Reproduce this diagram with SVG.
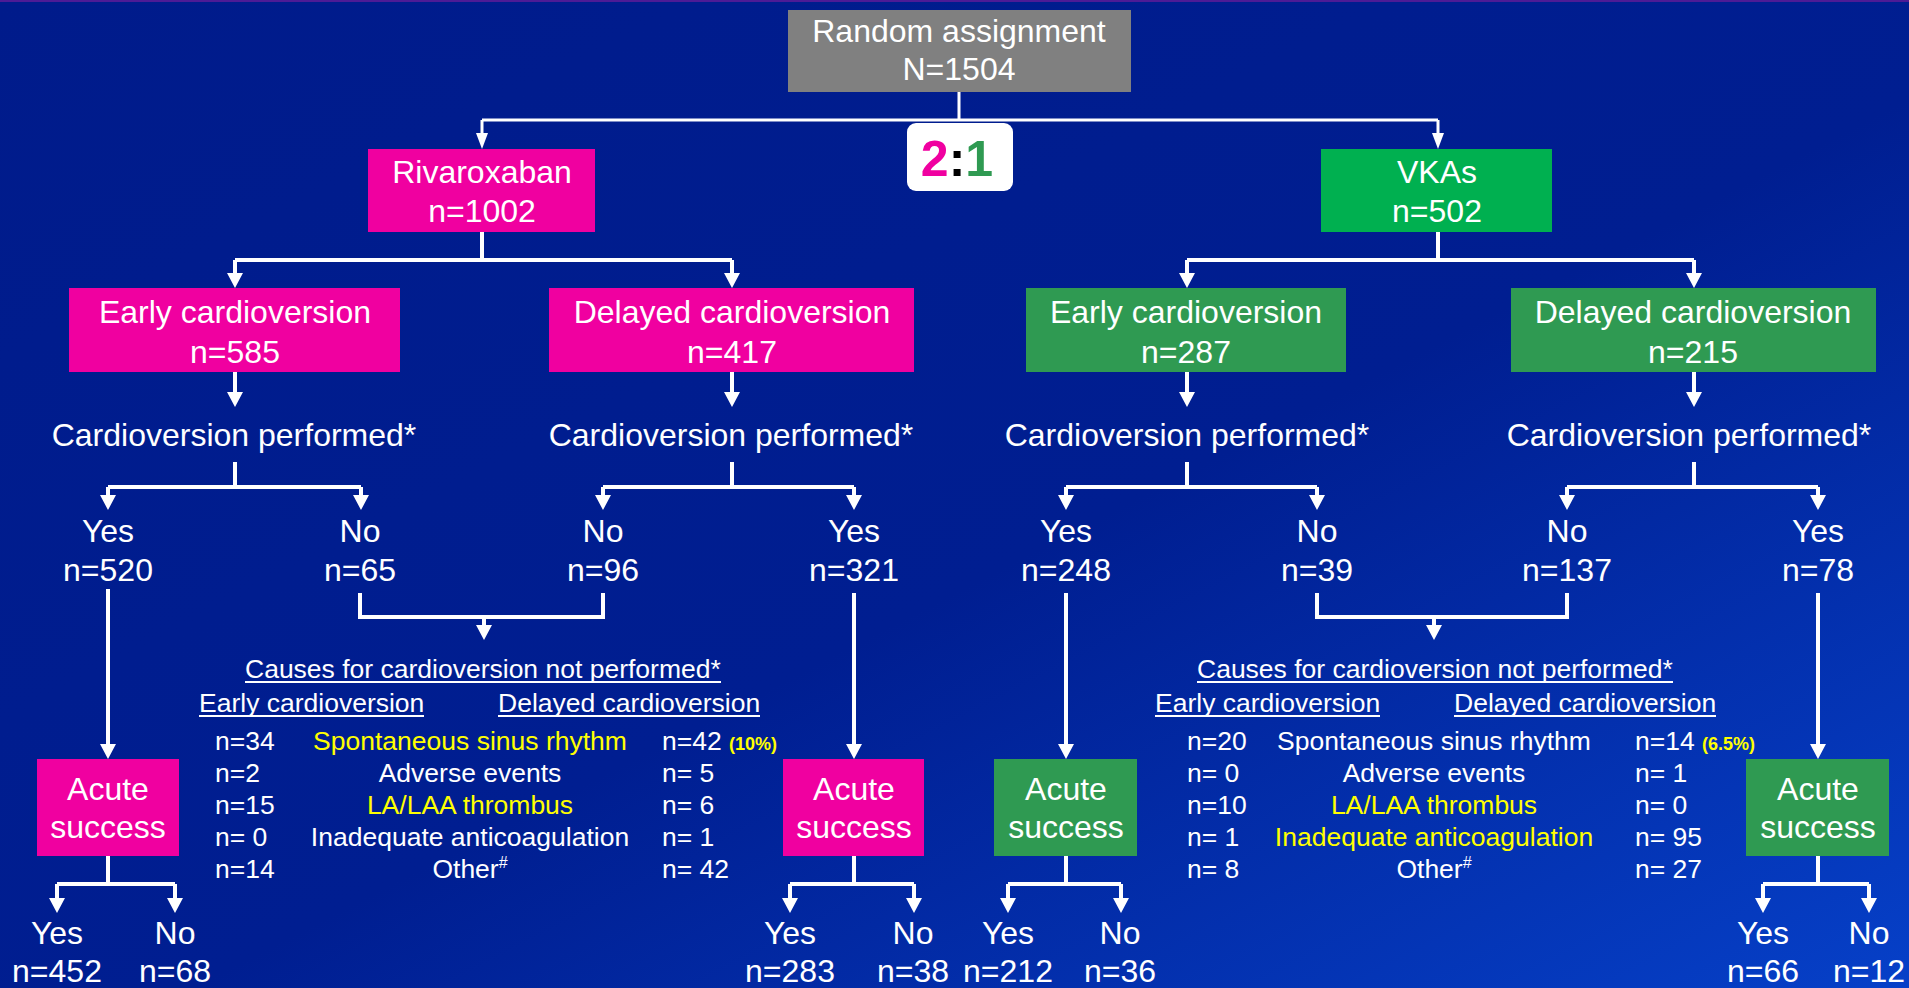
<svg xmlns="http://www.w3.org/2000/svg" width="1909" height="988" viewBox="0 0 1909 988">
<defs>
<linearGradient id="bg" x1="0" y1="0" x2="1" y2="1">
<stop offset="0" stop-color="#001b8b"/>
<stop offset="0.55" stop-color="#001e91"/>
<stop offset="1" stop-color="#0640c8"/>
</linearGradient>
<marker id="ah" markerUnits="userSpaceOnUse" markerWidth="16" markerHeight="18" viewBox="0 -9 16 18" refX="0" refY="0" orient="auto"><path d="M0,-8 L15,0 L0,8 z" fill="#ffffff"/></marker>
<marker id="ah2" markerUnits="userSpaceOnUse" markerWidth="17" markerHeight="14" viewBox="0 -7 17 14" refX="0" refY="0" orient="auto"><path d="M0,-6 L16,0 L0,6 z" fill="#ffffff"/></marker>
<style>
text{font-family:"Liberation Sans",Arial,sans-serif;fill:#ffffff}
.b{font-size:32px;text-anchor:middle}
.s{font-size:26.5px}
.m{text-anchor:middle}
.y{fill:#ffff00}
.pc{font-size:18px;font-weight:bold;fill:#ffff00}
.sup{font-size:16px}
.ln{fill:none;stroke:#ffffff;stroke-width:4}
.ln3{fill:none;stroke:#ffffff;stroke-width:3}
.ul{stroke:#ffffff;stroke-width:1.8}
.mag{fill:#f000a0}
.grn{fill:#00b050}
.dg{fill:#2f9a52}
</style>
</defs>
<rect x="0" y="0" width="1909" height="988" fill="url(#bg)"/>
<rect x="0" y="0" width="1909" height="2" fill="#4d1b96"/>

<g id="connectors">
<path class="ln3" d="M959,92 V120 M482,120 H1438"/>
<path class="ln3" d="M482,120 V133" marker-end="url(#ah2)"/>
<path class="ln3" d="M1438,120 V133" marker-end="url(#ah2)"/>

<path class="ln" d="M482,232 V260 M235,260 H732 M1438,232 V260 M1187,260 H1694"/>
<path class="ln" d="M235,260 V273" marker-end="url(#ah)"/>
<path class="ln" d="M732,260 V273" marker-end="url(#ah)"/>
<path class="ln" d="M1187,260 V273" marker-end="url(#ah)"/>
<path class="ln" d="M1694,260 V273" marker-end="url(#ah)"/>

<path class="ln" d="M235,372 V392" marker-end="url(#ah)"/>
<path class="ln" d="M732,372 V392" marker-end="url(#ah)"/>
<path class="ln" d="M1187,372 V392" marker-end="url(#ah)"/>
<path class="ln" d="M1694,372 V392" marker-end="url(#ah)"/>

<path class="ln" d="M235,462 V487 M108,487 H361 M732,462 V487 M603,487 H854 M1187,462 V487 M1066,487 H1317 M1694,462 V487 M1567,487 H1818"/>
<path class="ln" d="M108,487 V495" marker-end="url(#ah)"/>
<path class="ln" d="M361,487 V495" marker-end="url(#ah)"/>
<path class="ln" d="M603,487 V495" marker-end="url(#ah)"/>
<path class="ln" d="M854,487 V495" marker-end="url(#ah)"/>
<path class="ln" d="M1066,487 V495" marker-end="url(#ah)"/>
<path class="ln" d="M1317,487 V495" marker-end="url(#ah)"/>
<path class="ln" d="M1567,487 V495" marker-end="url(#ah)"/>
<path class="ln" d="M1818,487 V495" marker-end="url(#ah)"/>

<path class="ln" d="M108,589 V744" marker-end="url(#ah)"/>
<path class="ln" d="M854,593 V744" marker-end="url(#ah)"/>
<path class="ln" d="M1066,593 V744" marker-end="url(#ah)"/>
<path class="ln" d="M1818,593 V744" marker-end="url(#ah)"/>

<path class="ln" d="M360,593 V617 H603 V593 M1317,593 V617 H1567 V593"/>
<path class="ln" d="M484,617 V625" marker-end="url(#ah)"/>
<path class="ln" d="M1434,617 V625" marker-end="url(#ah)"/>

<path class="ln" d="M108,856 V884 M57,884 H175 M854,856 V884 M790,884 H914 M1066,856 V884 M1008,884 H1121 M1818,856 V884 M1763,884 H1869"/>
<path class="ln" d="M57,884 V898" marker-end="url(#ah)"/>
<path class="ln" d="M175,884 V898" marker-end="url(#ah)"/>
<path class="ln" d="M790,884 V898" marker-end="url(#ah)"/>
<path class="ln" d="M914,884 V898" marker-end="url(#ah)"/>
<path class="ln" d="M1008,884 V898" marker-end="url(#ah)"/>
<path class="ln" d="M1121,884 V898" marker-end="url(#ah)"/>
<path class="ln" d="M1763,884 V898" marker-end="url(#ah)"/>
<path class="ln" d="M1869,884 V898" marker-end="url(#ah)"/>
</g>

<g id="random">
<rect x="788" y="10" width="343" height="82" fill="#808080"/>
<text class="b" x="959" y="42">Random assignment</text>
<text class="b" x="959" y="80">N=1504</text>
</g>

<g id="ratio">
<rect x="907" y="123" width="106" height="68" rx="9" fill="#ffffff"/>
<text x="957" y="176" text-anchor="middle" style="font-size:50px;font-weight:bold"><tspan fill="#f000a0">2</tspan><tspan fill="#000000">:</tspan><tspan fill="#2f9a52">1</tspan></text>
</g>

<g id="rivaroxaban">
<rect class="mag" x="368" y="149" width="227" height="83"/>
<text class="b" x="482" y="183">Rivaroxaban</text>
<text class="b" x="482" y="222">n=1002</text>
</g>

<g id="vkas">
<rect class="grn" x="1321" y="149" width="231" height="83"/>
<text class="b" x="1437" y="183">VKAs</text>
<text class="b" x="1437" y="222">n=502</text>
</g>

<g id="riva-early">
<rect class="mag" x="69" y="288" width="331" height="84"/>
<text class="b" x="235" y="323">Early cardioversion</text>
<text class="b" x="235" y="363">n=585</text>
</g>
<g id="riva-delayed">
<rect class="mag" x="549" y="288" width="365" height="84"/>
<text class="b" x="732" y="323">Delayed cardioversion</text>
<text class="b" x="732" y="363">n=417</text>
</g>
<g id="vka-early">
<rect class="dg" x="1026" y="288" width="320" height="84"/>
<text class="b" x="1186" y="323">Early cardioversion</text>
<text class="b" x="1186" y="363">n=287</text>
</g>
<g id="vka-delayed">
<rect class="dg" x="1511" y="288" width="365" height="84"/>
<text class="b" x="1693" y="323">Delayed cardioversion</text>
<text class="b" x="1693" y="363">n=215</text>
</g>

<g id="cv-performed-1"><text class="b" x="234" y="446">Cardioversion performed*</text></g>
<g id="cv-performed-2"><text class="b" x="731" y="446">Cardioversion performed*</text></g>
<g id="cv-performed-3"><text class="b" x="1187" y="446">Cardioversion performed*</text></g>
<g id="cv-performed-4"><text class="b" x="1689" y="446">Cardioversion performed*</text></g>

<g id="riva-early-yes"><text class="b" x="108" y="542">Yes</text><text class="b" x="108" y="581">n=520</text></g>
<g id="riva-early-no"><text class="b" x="360" y="542">No</text><text class="b" x="360" y="581">n=65</text></g>
<g id="riva-delayed-no"><text class="b" x="603" y="542">No</text><text class="b" x="603" y="581">n=96</text></g>
<g id="riva-delayed-yes"><text class="b" x="854" y="542">Yes</text><text class="b" x="854" y="581">n=321</text></g>
<g id="vka-early-yes"><text class="b" x="1066" y="542">Yes</text><text class="b" x="1066" y="581">n=248</text></g>
<g id="vka-early-no"><text class="b" x="1317" y="542">No</text><text class="b" x="1317" y="581">n=39</text></g>
<g id="vka-delayed-no"><text class="b" x="1567" y="542">No</text><text class="b" x="1567" y="581">n=137</text></g>
<g id="vka-delayed-yes"><text class="b" x="1818" y="542">Yes</text><text class="b" x="1818" y="581">n=78</text></g>

<g id="causes-riva">
<text class="s" x="245" y="678">Causes for cardioversion not performed*</text>
<line class="ul" x1="245" y1="682" x2="721" y2="682"/>
<text class="s" x="199" y="712">Early cardioversion</text>
<line class="ul" x1="199" y1="716" x2="424" y2="716"/>
<text class="s" x="498" y="712">Delayed cardioversion</text>
<line class="ul" x1="498" y1="716" x2="760" y2="716"/>
<text class="s" x="215" y="750">n=34</text>
<text class="s m y" x="470" y="750">Spontaneous sinus rhythm</text>
<text class="s" x="662" y="750">n=42 <tspan class="pc">(10%)</tspan></text>
<text class="s" x="215" y="782">n=2</text>
<text class="s m" x="470" y="782">Adverse events</text>
<text class="s" x="662" y="782">n= 5</text>
<text class="s" x="215" y="814">n=15</text>
<text class="s m y" x="470" y="814">LA/LAA thrombus</text>
<text class="s" x="662" y="814">n= 6</text>
<text class="s" x="215" y="846">n= 0</text>
<text class="s m" x="470" y="846">Inadequate anticoagulation</text>
<text class="s" x="662" y="846">n= 1</text>
<text class="s" x="215" y="878">n=14</text>
<text class="s m" x="470" y="878">Other<tspan class="sup" dy="-10">#</tspan></text>
<text class="s" x="662" y="878">n= 42</text>
</g>

<g id="causes-vka">
<text class="s" x="1197" y="678">Causes for cardioversion not performed*</text>
<line class="ul" x1="1197" y1="682" x2="1673" y2="682"/>
<text class="s" x="1155" y="712">Early cardioversion</text>
<line class="ul" x1="1155" y1="716" x2="1380" y2="716"/>
<text class="s" x="1454" y="712">Delayed cardioversion</text>
<line class="ul" x1="1454" y1="716" x2="1716" y2="716"/>
<text class="s" x="1187" y="750">n=20</text>
<text class="s m" x="1434" y="750">Spontaneous sinus rhythm</text>
<text class="s" x="1635" y="750">n=14 <tspan class="pc">(6.5%)</tspan></text>
<text class="s" x="1187" y="782">n= 0</text>
<text class="s m" x="1434" y="782">Adverse events</text>
<text class="s" x="1635" y="782">n= 1</text>
<text class="s" x="1187" y="814">n=10</text>
<text class="s m y" x="1434" y="814">LA/LAA thrombus</text>
<text class="s" x="1635" y="814">n= 0</text>
<text class="s" x="1187" y="846">n= 1</text>
<text class="s m y" x="1434" y="846">Inadequate anticoagulation</text>
<text class="s" x="1635" y="846">n= 95</text>
<text class="s" x="1187" y="878">n= 8</text>
<text class="s m" x="1434" y="878">Other<tspan class="sup" dy="-10">#</tspan></text>
<text class="s" x="1635" y="878">n= 27</text>
</g>

<g id="acute-riva-early">
<rect class="mag" x="37" y="759" width="142" height="97"/>
<text class="b" x="108" y="800">Acute</text>
<text class="b" x="108" y="838">success</text>
</g>
<g id="acute-riva-delayed">
<rect class="mag" x="783" y="759" width="141" height="97"/>
<text class="b" x="854" y="800">Acute</text>
<text class="b" x="854" y="838">success</text>
</g>
<g id="acute-vka-early">
<rect class="dg" x="994" y="759" width="143" height="97"/>
<text class="b" x="1066" y="800">Acute</text>
<text class="b" x="1066" y="838">success</text>
</g>
<g id="acute-vka-delayed">
<rect class="dg" x="1746" y="759" width="143" height="97"/>
<text class="b" x="1818" y="800">Acute</text>
<text class="b" x="1818" y="838">success</text>
</g>

<g id="out-riva-early-yes"><text class="b" x="57" y="944">Yes</text><text class="b" x="57" y="982">n=452</text></g>
<g id="out-riva-early-no"><text class="b" x="175" y="944">No</text><text class="b" x="175" y="982">n=68</text></g>
<g id="out-riva-delayed-yes"><text class="b" x="790" y="944">Yes</text><text class="b" x="790" y="982">n=283</text></g>
<g id="out-riva-delayed-no"><text class="b" x="913" y="944">No</text><text class="b" x="913" y="982">n=38</text></g>
<g id="out-vka-early-yes"><text class="b" x="1008" y="944">Yes</text><text class="b" x="1008" y="982">n=212</text></g>
<g id="out-vka-early-no"><text class="b" x="1120" y="944">No</text><text class="b" x="1120" y="982">n=36</text></g>
<g id="out-vka-delayed-yes"><text class="b" x="1763" y="944">Yes</text><text class="b" x="1763" y="982">n=66</text></g>
<g id="out-vka-delayed-no"><text class="b" x="1869" y="944">No</text><text class="b" x="1869" y="982">n=12</text></g>
</svg>
